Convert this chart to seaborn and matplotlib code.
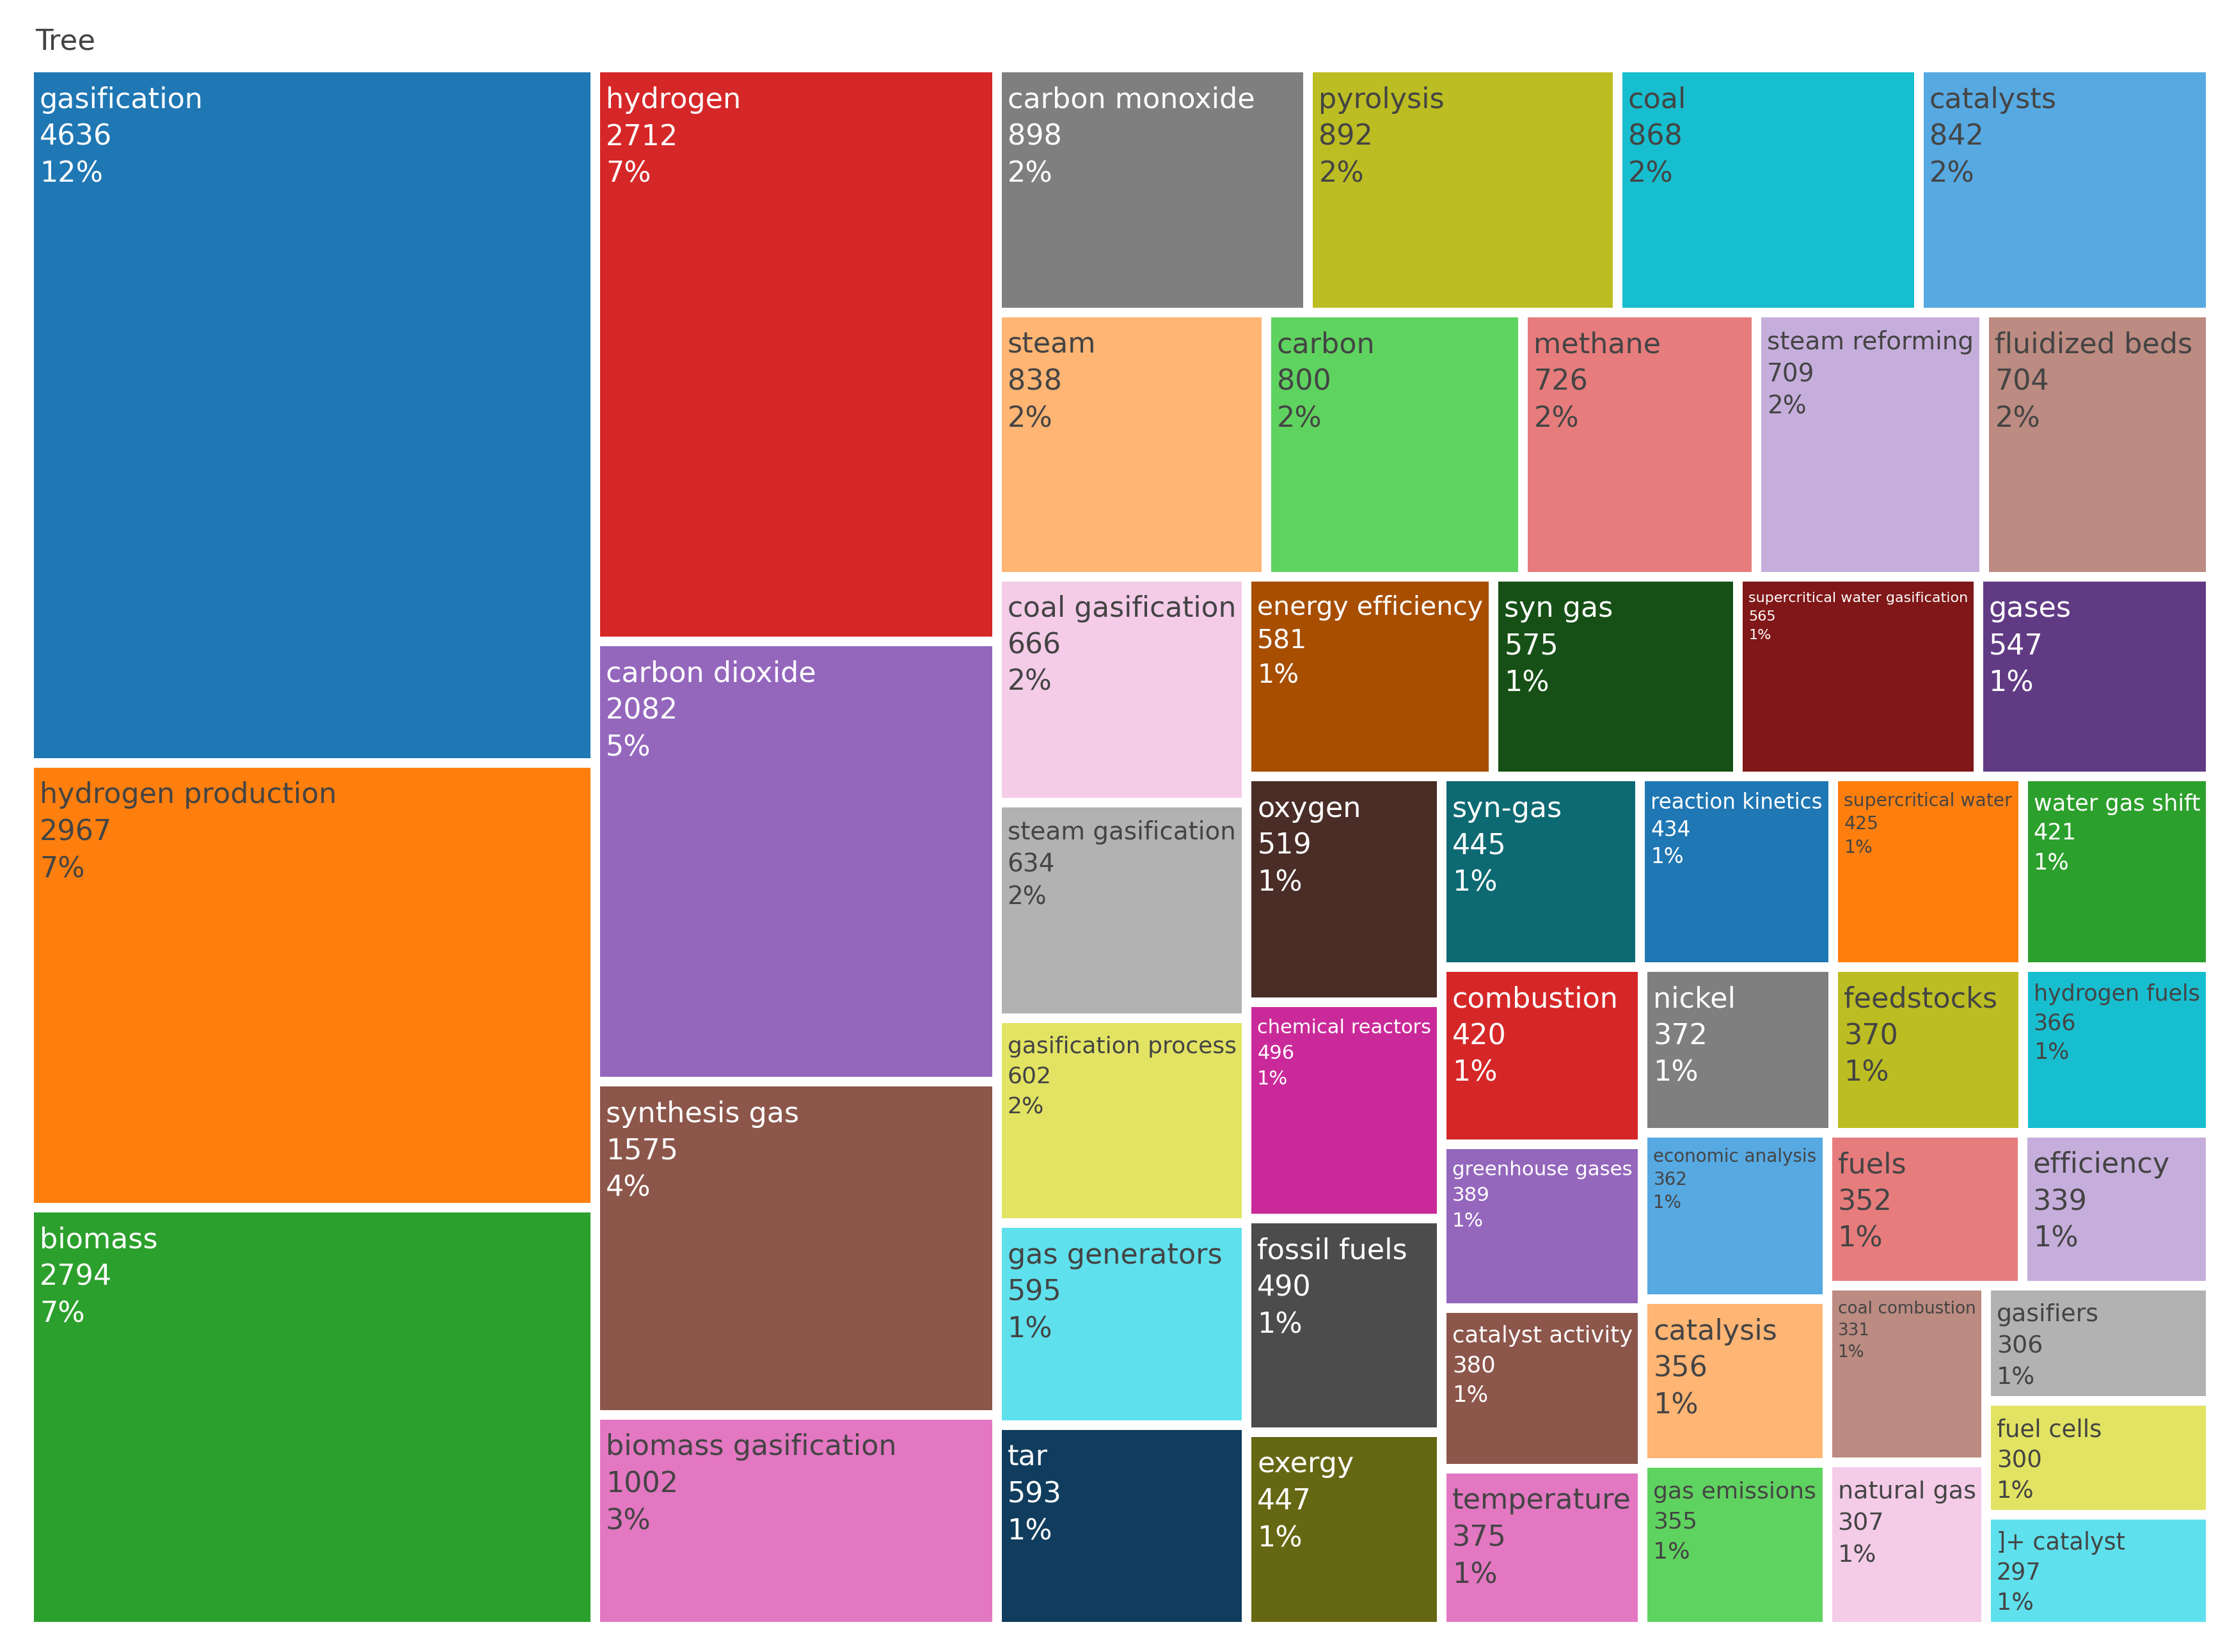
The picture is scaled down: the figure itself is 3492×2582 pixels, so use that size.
import colorsys
import matplotlib
matplotlib.use("Agg")
import matplotlib.pyplot as plt
from matplotlib.patches import Rectangle
import seaborn as sns

# keyword counts
labels = ["gasification", "hydrogen production", "biomass", "hydrogen", "carbon dioxide",
          "synthesis gas", "biomass gasification", "carbon monoxide", "pyrolysis", "coal",
          "catalysts", "steam", "carbon", "methane", "steam reforming", "fluidized beds",
          "coal gasification", "steam gasification", "gasification process", "gas generators",
          "tar", "energy efficiency", "syn gas", "supercritical water gasification", "gases",
          "oxygen", "chemical reactors", "fossil fuels", "exergy", "syn-gas",
          "reaction kinetics", "supercritical water", "water gas shift", "combustion",
          "greenhouse gases", "catalyst activity", "temperature", "nickel", "feedstocks",
          "hydrogen fuels", "economic analysis", "catalysis", "gas emissions", "fuels",
          "efficiency", "coal combustion", "natural gas", "gasifiers", "fuel cells", "]+ catalyst"]
values = [4636, 2967, 2794, 2712, 2082, 1575, 1002, 898, 892, 868,
          842, 838, 800, 726, 709, 704, 666, 634, 602, 595,
          593, 581, 575, 565, 547, 519, 496, 490, 447, 445,
          434, 425, 421, 420, 389, 380, 375, 372, 370, 366,
          362, 356, 355, 352, 339, 331, 307, 306, 300, 297]
root_label = "Tree"


def squarify(vals, x0, y0, x1, y1, ratio=1.0):
    # same row logic as d3.treemapSquarify
    rects = [None] * len(vals)
    value = float(sum(vals))
    n = len(vals)
    i0 = i1 = 0
    while i0 < n:
        dx, dy = x1 - x0, y1 - y0
        s = vals[i1]
        i1 += 1
        mn = mx = s
        alpha = max(dy / dx, dx / dy) / (value * ratio)
        beta = s * s * alpha
        min_ratio = max(mx / beta, beta / mn)
        while i1 < n:
            v = vals[i1]
            s += v
            mn = min(mn, v)
            mx = max(mx, v)
            beta = s * s * alpha
            r = max(mx / beta, beta / mn)
            if r > min_ratio:
                s -= v
                break
            min_ratio = r
            i1 += 1
        if dx < dy:
            ny = y0 + dy * s / value
            cx = x0
            for k in range(i0, i1):
                w = (x1 - x0) * vals[k] / s
                rects[k] = (cx, y0, w, ny - y0)
                cx += w
            y0 = ny
        else:
            nx = x0 + dx * s / value
            cy = y0
            for k in range(i0, i1):
                h = (y1 - y0) * vals[k] / s
                rects[k] = (x0, cy, nx - x0, h)
                cy += h
            x0 = nx
        value -= s
        i0 = i1
    return rects


sns.set_theme(style="white")
plt.rcParams["font.family"] = ["DejaVu Sans"]

W, H, DPI = 3492, 2582, 100
fig = plt.figure(figsize=(W / DPI, H / DPI), dpi=DPI)
ax = fig.add_axes([0, 0, 1, 1])
ax.set_xlim(0, W)
ax.set_ylim(H, 0)
ax.axis("off")

base = sns.color_palette("tab10")


def shift(c, amt):
    h, l, s = colorsys.rgb_to_hls(*c)
    return colorsys.hls_to_rgb(h, min(1, max(0, l + amt)), s)


palette = list(base) + [shift(c, 0.2) for c in base] + [shift(c, -0.2) for c in base]

order = sorted(range(len(values)), key=lambda i: -values[i])
svals = [values[i] for i in order]
slabels = [labels[i] for i in order]
total = sum(values)

gap = 15
rects = squarify(svals, 53 - gap / 2, 113 - gap / 2, 3448 + gap / 2, 2535 + gap / 2)

FS = 44.5  # px
pad = 9
px2pt = 72 / DPI
renderer = fig.canvas.get_renderer()

ax.text(55, 78, root_label, fontsize=45 * px2pt, color="#444444", va="baseline", ha="left")

for k, (x, y, w, h) in enumerate(rects):
    col = palette[k % len(palette)]
    x, y, w, h = x + gap / 2, y + gap / 2, w - gap, h - gap
    ax.add_patch(Rectangle((x, y), w, h, facecolor=col, edgecolor="none"))
    r, g, b = col
    bright = (299 * r + 587 * g + 114 * b) * 255 / 1000
    tcol = "white" if bright < 128 else "#444444"
    lines = [slabels[k], str(svals[k]), f"{svals[k] / total * 100:.0f}%"]
    widest = 0
    for ln in lines:
        t = ax.text(0, 0, ln, fontsize=FS * px2pt)
        widest = max(widest, t.get_window_extent(renderer=renderer).width)
        t.remove()
    fs = min(FS, FS * (w - 2 * pad) / widest, (h - 2 * pad) / 3.9)
    for i, ln in enumerate(lines):
        ax.text(x + pad, y + pad + fs * (1.05 + 1.3 * i), ln, fontsize=fs * px2pt,
                color=tcol, va="baseline", ha="left")

fig.savefig("out.png", dpi=DPI)
